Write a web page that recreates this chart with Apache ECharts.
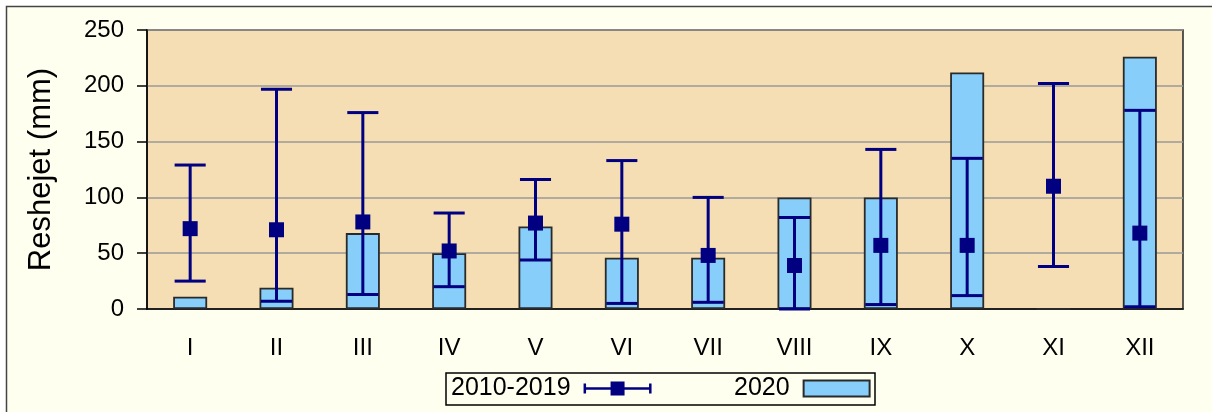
<!DOCTYPE html>
<html>
<head>
<meta charset="utf-8">
<script src="https://cdn.jsdelivr.net/npm/echarts@6/dist/echarts.min.js"></script>
<style>
  html, body { margin: 0; padding: 0; background: #ffffff; }
  #chart { width: 1212px; height: 412px; }
</style>
</head>
<body>
<div id="chart"></div>
<script>
// months (roman numerals)
var months = ['I', 'II', 'III', 'IV', 'V', 'VI', 'VII', 'VIII', 'IX', 'X', 'XI', 'XII'];
// 2020 monthly precipitation (bars)
var rain2020 = [11, 19, 68, 50, 74, 46, 46, 100, 100, 212, 0, 226];
// 2010-2019 mean, min and max
var meanPeriod = [72, 71, 78, 52, 77, 76, 48, 39, 57, 57, 110, 68];
var minPeriod = [25, 7, 13, 20, 44, 5, 6, 0, 4, 12, 38, 2];
var maxPeriod = [129, 197, 176, 86, 116, 133, 100, 82, 143, 135, 202, 178];
var yTicks = [0, 50, 100, 150, 200, 250];

var navy = '#000080';
var fontFam = '"Liberation Sans", Arial, sans-serif';

var errData = months.map(function (m, i) {
  return [i, minPeriod[i], maxPeriod[i], meanPeriod[i]];
});

function renderErr(params, api) {
  var idx = api.value(0);
  var lo = api.coord([idx, api.value(1)]);
  var hi = api.coord([idx, api.value(2)]);
  var mid = api.coord([idx, api.value(3)]);
  var capW = api.size([1, 0])[0] * 0.36;
  var sq = 15;
  var lineStyle = { stroke: navy, lineWidth: 3 };
  return {
    type: 'group',
    children: [
      { type: 'line', shape: { x1: lo[0], y1: lo[1], x2: hi[0], y2: hi[1] }, style: lineStyle },
      { type: 'line', shape: { x1: lo[0] - capW / 2, y1: lo[1], x2: lo[0] + capW / 2, y2: lo[1] }, style: lineStyle },
      { type: 'line', shape: { x1: hi[0] - capW / 2, y1: hi[1], x2: hi[0] + capW / 2, y2: hi[1] }, style: lineStyle },
      { type: 'rect', shape: { x: mid[0] - sq / 2, y: mid[1] - sq / 2, width: sq, height: sq }, style: { fill: navy } }
    ]
  };
}

// legend icon: whisker with caps and a square in the middle
var errIcon = 'path://M0,2 h2.5 v10 h-2.5 z M0,5.75 h68 v2.5 h-68 z M65.5,2 h2.5 v10 h-2.5 z M27,0 h14 v14 h-14 z';

var chart = echarts.init(document.getElementById('chart'));
chart.setOption({
  backgroundColor: '#ffffff',
  animation: false,
  textStyle: { fontFamily: fontFam },
  graphic: [
    {
      type: 'rect', z: -100, silent: true,
      shape: { x: 6.5, y: 6.5, width: 1220, height: 420 },
      style: { fill: '#FFFFF0', stroke: '#444444', lineWidth: 1.5 }
    },
    {
      type: 'rect', z: -50, silent: true,
      shape: { x: 446, y: 373, width: 429, height: 32 },
      style: { fill: '#FFFFF0', stroke: '#000000', lineWidth: 1.5 }
    }
  ],
  grid: {
    left: 147, right: 29, top: 30, bottom: 103,
    show: true,
    backgroundColor: '#F5DEB3',
    borderColor: '#222222',
    borderWidth: 1.5
  },
  legend: [
    {
      data: [{ name: '2010-2019', icon: errIcon }],
      left: 451, top: 376,
      padding: 0,
      align: 'right',
      itemWidth: 68, itemHeight: 14,
      textStyle: { fontSize: 25, color: '#000', fontFamily: fontFam, padding: [0, 8, 0, 0] }
    },
    {
      data: [{ name: '2020', icon: 'rect' }],
      left: 734, top: 376,
      padding: 0,
      align: 'right',
      itemWidth: 66, itemHeight: 16,
      textStyle: { fontSize: 25, color: '#000', fontFamily: fontFam, padding: [0, 9, 0, 0] }
    }
  ],
  xAxis: {
    type: 'category',
    data: months,
    axisLine: { lineStyle: { color: '#000', width: 1.5 } },
    axisTick: { alignWithLabel: true, length: 10, lineStyle: { color: '#333', width: 1.5 } },
    axisLabel: { fontSize: 24, color: '#000', margin: 27 },
    splitLine: { show: false }
  },
  yAxis: {
    type: 'value',
    min: yTicks[0], max: yTicks[yTicks.length - 1], interval: 50,
    name: 'Reshejet (mm)',
    nameLocation: 'middle',
    nameGap: 90,
    nameTextStyle: { fontSize: 31, color: '#000' },
    axisLine: { show: true, lineStyle: { color: '#000', width: 1.5 } },
    axisTick: { show: true, length: 10, lineStyle: { color: '#000', width: 1.5 } },
    axisLabel: { fontSize: 24, color: '#000', margin: 23 },
    splitLine: { lineStyle: { color: '#999999', width: 1.5 } }
  },
  series: [
    {
      name: '2020',
      type: 'bar',
      data: rain2020,
      barWidth: 34,
      itemStyle: { color: '#87CEFA', borderColor: '#2a2a2a', borderWidth: 1.8 },
      z: 2
    },
    {
      name: '2010-2019',
      type: 'custom',
      data: errData,
      renderItem: renderErr,
      encode: { x: 0, y: [1, 2, 3] },
      itemStyle: { color: navy },
      z: 5
    }
  ]
});
</script>
</body>
</html>
